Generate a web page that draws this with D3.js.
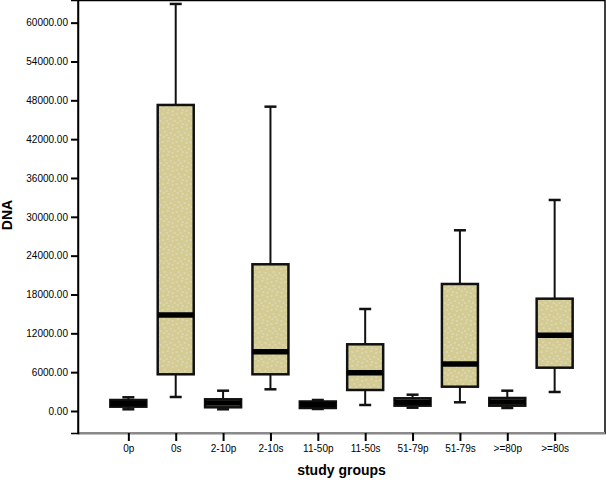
<!DOCTYPE html>
<html>
<head>
<meta charset="utf-8">
<script src="https://cdn.jsdelivr.net/npm/d3@7"></script>
<style>
  html, body { margin: 0; padding: 0; background: #fff; }
  svg { display: block; font-family: "Liberation Sans", Arial, Helvetica, sans-serif; }
</style>
</head>
<body>
<svg id="chart" width="606" height="480"></svg>
<script>
const categories = ["0p", "0s", "2-10p", "2-10s", "11-50p", "11-50s", "51-79p", "51-79s", ">=80p", ">=80s"];
const whiskerLow  = [263, 2163, 263, 3353, 310, 927, 510, 1344, 464, 2936];
const q1          = [664, 5671, 572, 5671, 463, 3245, 819, 3755, 819, 6691];
const median      = [1150, 14834, 1250, 9163, 1000, 5918, 1350, 7262, 1400, 11697];
const q3          = [1700, 47283, 1808, 22668, 1468, 10306, 1962, 19624, 2009, 17353];
const whiskerHigh = [2117, 62890, 3137, 47020, 1700, 15761, 2519, 27921, 3137, 32604];
const yTicks = [0, 6000, 12000, 18000, 24000, 30000, 36000, 42000, 48000, 54000, 60000];

const rows = categories.map((c, i) => ({
  cat: c, lo: whiskerLow[i], q1: q1[i], med: median[i], q3: q3[i], hi: whiskerHigh[i]
}));

const svg = d3.select("#chart");
const L = 78, R = 605, T = 0, B = 433;

const x = d3.scalePoint().domain(categories).range([L, R]).padding(1.063);
const y = d3.scaleLinear().domain([-3400, 63500]).range([B, T]);

// speckle pattern
const defs = svg.append("defs");
const pat = defs.append("pattern").attr("id", "speck").attr("patternUnits", "userSpaceOnUse")
  .attr("width", 14).attr("height", 14);
pat.append("rect").attr("width", 14).attr("height", 14).attr("fill", "#d3cb92");
const dots = [[1,2],[6,1],[11,3],[3,6],[9,7],[13,9],[2,11],[7,12],[5,9],[11,13]];
pat.selectAll("circle").data(dots).join("circle")
  .attr("cx", d => d[0]).attr("cy", d => d[1]).attr("r", 0.65).attr("fill", "#e9e9f2");

// frame
svg.append("rect").attr("x", L).attr("y", T + 0.5).attr("width", R - L).attr("height", B - T)
  .attr("fill", "none").attr("stroke", "#000").attr("stroke-width", 1.5);
svg.append("line").attr("x1", L).attr("x2", R).attr("y1", B).attr("y2", B)
  .attr("stroke", "#8a8a8a").attr("stroke-width", 2);

// y axis
const yAxis = svg.append("g").attr("transform", `translate(${L},0)`)
  .call(d3.axisLeft(y).tickValues(yTicks).tickFormat(d3.format(".2f")).tickSize(7).tickPadding(3));
yAxis.select(".domain").attr("stroke", "#000").attr("stroke-width", 1.5);
yAxis.selectAll(".tick line").attr("stroke", "#000").attr("stroke-width", 2);
yAxis.selectAll(".tick text").attr("font-size", 10).attr("fill", "#000")
  .attr("font-family", "'Liberation Sans', Arial, sans-serif");

// x axis
const xAxis = svg.append("g").attr("transform", `translate(0,${B})`)
  .call(d3.axisBottom(x).tickSize(8).tickPadding(4));
xAxis.select(".domain").remove();
xAxis.selectAll(".tick line").attr("stroke", "#000").attr("stroke-width", 2);
xAxis.selectAll(".tick text").attr("font-size", 10).attr("fill", "#000")
  .attr("font-family", "'Liberation Sans', Arial, sans-serif");

// boxes
const bw = 36, cw = 12;
const g = svg.append("g").selectAll("g").data(rows).join("g")
  .attr("transform", d => `translate(${x(d.cat)},0)`);

g.append("line").attr("x1", 0).attr("x2", 0).attr("y1", d => y(d.hi)).attr("y2", d => y(d.q3))
  .attr("stroke", "#111").attr("stroke-width", 2);
g.append("line").attr("x1", 0).attr("x2", 0).attr("y1", d => y(d.q1)).attr("y2", d => y(d.lo))
  .attr("stroke", "#111").attr("stroke-width", 2);
g.append("line").attr("x1", -cw / 2).attr("x2", cw / 2).attr("y1", d => y(d.hi)).attr("y2", d => y(d.hi))
  .attr("stroke", "#111").attr("stroke-width", 2.5);
g.append("line").attr("x1", -cw / 2).attr("x2", cw / 2).attr("y1", d => y(d.lo)).attr("y2", d => y(d.lo))
  .attr("stroke", "#111").attr("stroke-width", 2.5);
g.append("rect").attr("x", -bw / 2).attr("width", bw)
  .attr("y", d => y(d.q3)).attr("height", d => y(d.q1) - y(d.q3))
  .attr("fill", "url(#speck)").attr("stroke", "#111").attr("stroke-width", 2.5);
g.append("line").attr("x1", -bw / 2).attr("x2", bw / 2).attr("y1", d => y(d.med)).attr("y2", d => y(d.med))
  .attr("stroke", "#000").attr("stroke-width", 5.5);

// titles
svg.append("text").attr("x", (L + R) / 2).attr("y", 475).attr("text-anchor", "middle")
  .attr("font-size", 14).attr("font-weight", "bold").text("study groups");
svg.append("text").attr("transform", "translate(12,215) rotate(-90)").attr("text-anchor", "middle")
  .attr("font-size", 14).attr("font-weight", "bold").text("DNA");
</script>
</body>
</html>
